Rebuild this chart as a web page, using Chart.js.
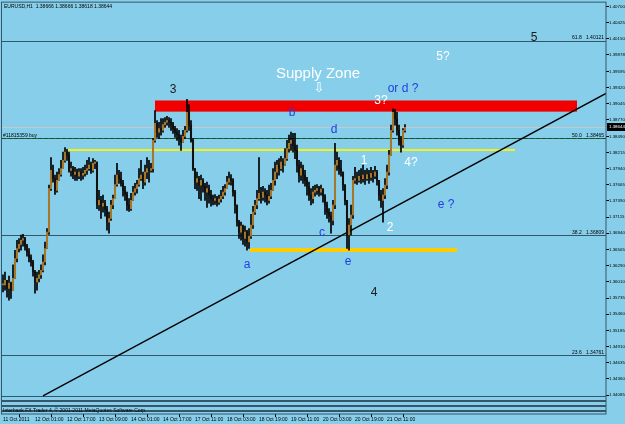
<!DOCTYPE html>
<html>
<head>
<meta charset="utf-8">
<title>EURUSD,H1</title>
<script src="https://cdn.jsdelivr.net/npm/chart.js@4.4.0/dist/chart.umd.min.js"></script>
<style>
	html, body { margin: 0; padding: 0; background: #87ceeb; }
	canvas { display: block; }
</style>
</head>
<body>
<canvas id="chart" width="625" height="424"></canvas>
<script>

// time axis labels, one every 16 bars
var tickLabels		=	["11 Oct 2011", "12 Oct 01:00", "12 Oct 17:00", "13 Oct 09:00", "14 Oct 01:00", "14 Oct 17:00", "17 Oct 11:00", "18 Oct 03:00", "18 Oct 19:00", "19 Oct 11:00", "20 Oct 03:00", "20 Oct 19:00", "21 Oct 11:00"];

// price axis labels
var priceTicks		=	[1.40700, 1.40425, 1.40150, 1.39878, 1.39595, 1.39320, 1.39045, 1.38770, 1.38490, 1.38215, 1.37940, 1.37665, 1.37390, 1.37115, 1.36840, 1.36565, 1.36290, 1.36010, 1.35735, 1.35460, 1.35185, 1.34910, 1.34635, 1.34360, 1.34085];

// H1 candles (open = previous close)
var closes			=	[
	1.3596,1.3604,1.3590,1.3599,1.3587,1.3607,1.3641,1.3658,1.3665,1.3672,
	1.3675,1.3662,1.3652,1.3643,1.3635,1.3618,1.3601,1.3607,1.3613,1.3621,
	1.3635,1.3658,1.3686,1.3760,1.3791,1.3777,1.3757,1.3774,1.3784,1.3794,
	1.3808,1.3822,1.3817,1.3791,1.3794,1.3784,1.3788,1.3781,1.3788,1.3783,
	1.3786,1.3791,1.3794,1.3800,1.3791,1.3803,1.3805,1.3732,1.3740,1.3730,
	1.3735,1.3725,1.3703,1.3709,1.3732,1.3743,1.3767,1.3783,1.3777,1.3769,
	1.3757,1.3750,1.3732,1.3726,1.3740,1.3754,1.3760,1.3767,1.3777,1.3783,
	1.3771,1.3788,1.3794,1.3791,1.3794,1.3842,1.3871,1.3856,1.3862,1.3859,
	1.3869,1.3873,1.3876,1.3873,1.3869,1.3862,1.3856,1.3852,1.3845,1.3839,
	1.3849,1.3859,1.3890,1.3868,1.3842,1.3794,1.3771,1.3777,1.3766,1.3774,
	1.3764,1.3754,1.3760,1.3749,1.3743,1.3740,1.3743,1.3737,1.3742,1.3747,
	1.3754,1.3760,1.3771,1.3777,1.3774,1.3754,1.3732,1.3703,1.3686,1.3696,
	1.3675,1.3686,1.3669,1.3679,1.3698,1.3720,1.3732,1.3743,1.3752,1.3745,
	1.3754,1.3749,1.3740,1.3747,1.3757,1.3774,1.3788,1.3800,1.3794,1.3805,
	1.3801,1.3811,1.3828,1.3837,1.3842,1.3834,1.3825,1.3800,1.3783,1.3794,
	1.3783,1.3774,1.3764,1.3749,1.3743,1.3754,1.3757,1.3760,1.3754,1.3759,
	1.3747,1.3732,1.3720,1.3713,1.3706,1.3732,1.3800,1.3808,1.3794,1.3788,
	1.3766,1.3740,1.3681,1.3698,1.3715,1.3774,1.3777,1.3774,1.3781,1.3777,
	1.3783,1.3777,1.3784,1.3779,1.3786,1.3781,1.3788,1.3774,1.3749,1.3740,
	1.3749,1.3766,1.3788,1.3817,1.3859,1.3890,1.3879,1.3859,1.3842,1.3834,
	1.3859,1.38644
];
var highs			=	[
	1.3613,1.3618,1.3604,1.3611,1.3601,1.3630,1.3655,1.3672,1.3675,1.3681,
	1.3682,1.3677,1.3665,1.3658,1.3647,1.3638,1.3621,1.3618,1.3621,1.3630,
	1.3647,1.3669,1.3692,1.3766,1.3813,1.3800,1.3783,1.3788,1.3794,1.3808,
	1.3822,1.3830,1.3827,1.3822,1.3805,1.3798,1.3796,1.3793,1.3794,1.3794,
	1.3796,1.3800,1.3808,1.3813,1.3805,1.3811,1.3808,1.3805,1.3757,1.3747,
	1.3749,1.3740,1.3730,1.3720,1.3740,1.3749,1.3783,1.3803,1.3791,1.3788,
	1.3774,1.3764,1.3754,1.3743,1.3752,1.3764,1.3769,1.3774,1.3794,1.3808,
	1.3788,1.3800,1.3813,1.3808,1.3803,1.3845,1.3893,1.3876,1.3873,1.3879,
	1.3879,1.3881,1.3883,1.3881,1.3879,1.3873,1.3866,1.3862,1.3859,1.3851,
	1.3859,1.3866,1.3912,1.3903,1.3876,1.3845,1.3791,1.3788,1.3781,1.3783,
	1.3777,1.3769,1.3771,1.3766,1.3757,1.3749,1.3750,1.3747,1.3749,1.3757,
	1.3764,1.3767,1.3781,1.3788,1.3784,1.3777,1.3757,1.3732,1.3706,1.3703,
	1.3698,1.3696,1.3689,1.3692,1.3716,1.3730,1.3740,1.3757,1.3813,1.3762,
	1.3764,1.3760,1.3757,1.3766,1.3769,1.3794,1.3805,1.3808,1.3811,1.3815,
	1.3811,1.3828,1.3842,1.3851,1.3856,1.3854,1.3854,1.3834,1.3808,1.3805,
	1.3800,1.3791,1.3779,1.3771,1.3760,1.3764,1.3766,1.3767,1.3764,1.3766,
	1.3760,1.3750,1.3737,1.3726,1.3720,1.3740,1.3837,1.3822,1.3813,1.3808,
	1.3788,1.3767,1.3740,1.3709,1.3732,1.3781,1.3796,1.3788,1.3791,1.3794,
	1.3800,1.3791,1.3794,1.3791,1.3796,1.3791,1.3798,1.3791,1.3774,1.3757,
	1.3760,1.3777,1.3800,1.3825,1.3868,1.3896,1.3895,1.3890,1.3868,1.3849,
	1.3862,1.3869
];
var lows			=	[
	1.3584,1.3587,1.3575,1.3570,1.3573,1.3587,1.3628,1.3635,1.3652,1.3655,
	1.3662,1.3655,1.3645,1.3635,1.3628,1.3611,1.3582,1.3587,1.3601,1.3607,
	1.3618,1.3630,1.3658,1.3682,1.3757,1.3771,1.3750,1.3754,1.3774,1.3781,
	1.3798,1.3805,1.3808,1.3788,1.3781,1.3777,1.3774,1.3774,1.3777,1.3774,
	1.3776,1.3781,1.3784,1.3791,1.3786,1.3788,1.3794,1.3726,1.3723,1.3709,
	1.3720,1.3713,1.3689,1.3684,1.3706,1.3726,1.3743,1.3764,1.3769,1.3764,
	1.3747,1.3740,1.3723,1.3721,1.3723,1.3743,1.3749,1.3752,1.3764,1.3774,
	1.3760,1.3766,1.3777,1.3771,1.3788,1.3788,1.3839,1.3847,1.3845,1.3851,
	1.3856,1.3864,1.3868,1.3864,1.3859,1.3854,1.3847,1.3842,1.3834,1.3825,
	1.3839,1.3845,1.3856,1.3859,1.3839,1.3791,1.3760,1.3757,1.3743,1.3740,
	1.3754,1.3740,1.3728,1.3735,1.3730,1.3732,1.3733,1.3730,1.3733,1.3737,
	1.3743,1.3749,1.3760,1.3767,1.3766,1.3747,1.3718,1.3696,1.3675,1.3672,
	1.3665,1.3662,1.3655,1.3658,1.3675,1.3692,1.3716,1.3726,1.3740,1.3735,
	1.3740,1.3737,1.3732,1.3735,1.3743,1.3757,1.3766,1.3777,1.3783,1.3791,
	1.3788,1.3800,1.3808,1.3822,1.3825,1.3822,1.3811,1.3788,1.3771,1.3774,
	1.3769,1.3764,1.3749,1.3740,1.3732,1.3735,1.3747,1.3750,1.3747,1.3749,
	1.3737,1.3716,1.3709,1.3703,1.3684,1.3698,1.3726,1.3791,1.3784,1.3781,
	1.3757,1.3732,1.3658,1.3655,1.3681,1.3709,1.3769,1.3767,1.3771,1.3769,
	1.3771,1.3767,1.3774,1.3769,1.3774,1.3771,1.3777,1.3766,1.3740,1.3728,
	1.3703,1.3743,1.3760,1.3783,1.3817,1.3856,1.3868,1.3851,1.3834,1.3822,
	1.3830,1.3856
];

// chart objects (bar index / price)
var fibLevels		=	["61.8", "50.0", "38.2", "23.6"];
var fibPrices		=	[1.40121, 1.38465, 1.36809, 1.34761];
var bottomPrices	=	[1.3407, 1.33975, 1.33895, 1.33815];
var trendBars		=	[20, 301.5];
var trendPrices		=	[1.3407, 1.3922];
var zoneBars		=	[76, 287];
var zonePrices		=	[1.3910, 1.3891];
var yellowBars		=	[31, 256];
var yellowPrice		=	1.3825;
var goldBars		=	[123.5, 227];
var goldPrice		=	1.3656;
var bidPrice		=	1.38644;
var orderPrice		=	1.38465;

var notes			=	[
	{ text: "3",			bar: 85,	price: 1.39287,	color: "#1a1a1a",	size: 12 },
	{ text: "Supply Zone",	bar: 157.5,	price: 1.39559,	color: "#ffffff",	size: 15 },
	{ text: "\u21e9",		bar: 158,	price: 1.39304,	color: "#ffffff",	size: 13 },
	{ text: "3?",			bar: 189,	price: 1.39100,	color: "#ffffff",	size: 12 },
	{ text: "or d ?",		bar: 200,	price: 1.39304,	color: "#2140e0",	size: 12 },
	{ text: "5?",			bar: 220,	price: 1.39848,	color: "#ffffff",	size: 12 },
	{ text: "5",			bar: 265.5,	price: 1.40171,	color: "#1a1a1a",	size: 12 },
	{ text: "b",			bar: 144.5,	price: 1.38896,	color: "#2140e0",	size: 12 },
	{ text: "d",			bar: 165.5,	price: 1.38607,	color: "#2140e0",	size: 12 },
	{ text: "1",			bar: 180.5,	price: 1.38080,	color: "#ffffff",	size: 12 },
	{ text: "4?",			bar: 204,	price: 1.38046,	color: "#ffffff",	size: 12 },
	{ text: "e ?",			bar: 221.5,	price: 1.37332,	color: "#2140e0",	size: 12 },
	{ text: "2",			bar: 193.5,	price: 1.36941,	color: "#ffffff",	size: 12 },
	{ text: "c",			bar: 159.5,	price: 1.36856,	color: "#2140e0",	size: 12 },
	{ text: "a",			bar: 122,	price: 1.36312,	color: "#2140e0",	size: 12 },
	{ text: "e",			bar: 172.5,	price: 1.36363,	color: "#2140e0",	size: 12 },
	{ text: "4",			bar: 185.5,	price: 1.35836,	color: "#1a1a1a",	size: 12 }
];

var LEVEL_COLOUR	=	"#35566a";
var SMALL_FONT		=	"Liberation Sans";

/**
 * Draws a horizontal segment between two bars at a price
 */
function hLine(ctx, xs, ys, bar0, bar1, price, width, colour, dash) {

	var y							=	Math.round(ys.getPixelForValue(price)) + (width % 2 ? 0.5 : 0);

	ctx.save();
	ctx.strokeStyle					=	colour;
	ctx.lineWidth					=	width;
	ctx.setLineDash(dash || []);
	ctx.beginPath();
	ctx.moveTo(xs.getPixelForValue(bar0), y);
	ctx.lineTo(xs.getPixelForValue(bar1), y);
	ctx.stroke();
	ctx.restore();

}

/**
 * MT4 style objects drawn around the candles
 */
var chartObjects		=	{

	id								:	"chartObjects",

	beforeDraw						:	function (chart) {

		var ctx						=	chart.ctx;
		ctx.save();
		ctx.fillStyle				=	"#87ceeb";
		ctx.fillRect(0, 0, chart.width, chart.height);
		ctx.restore();

	},

	beforeDatasetsDraw				:	function (chart) {

		var ctx						=	chart.ctx;
		var xs						=	chart.scales.x;
		var ys						=	chart.scales.y;
		var area					=	chart.chartArea;
		var x0						=	xs.min;
		var x1						=	xs.max;

		ctx.save();
		ctx.beginPath();
		ctx.rect(area.left, area.top, area.right - area.left, area.bottom - area.top);
		ctx.clip();

		// fibo levels and bottom stripes
		fibPrices.forEach(function (p) { hLine(ctx, xs, ys, x0, x1, p, 1, LEVEL_COLOUR); });
		bottomPrices.forEach(function (p, i) { hLine(ctx, xs, ys, x0, x1, p, i ? 2 : 1, LEVEL_COLOUR); });

		// bid line and order line
		hLine(ctx, xs, ys, x0, x1, bidPrice, 1, "#c8c8c8");
		hLine(ctx, xs, ys, x0, x1, orderPrice, 1, "#0a5a1a", [4, 2]);

		// supply zone
		var zx						=	xs.getPixelForValue(zoneBars[0]);
		var zy						=	ys.getPixelForValue(zonePrices[0]);
		ctx.fillStyle				=	"#f20000";
		ctx.fillRect(zx, zy, xs.getPixelForValue(zoneBars[1]) - zx, ys.getPixelForValue(zonePrices[1]) - zy);

		hLine(ctx, xs, ys, yellowBars[0], yellowBars[1], yellowPrice, 2, "#f4f020");
		hLine(ctx, xs, ys, goldBars[0], goldBars[1], goldPrice, 4, "#ffcc00");

		ctx.restore();

	},

	afterDatasetsDraw				:	function (chart) {

		var ctx						=	chart.ctx;
		var xs						=	chart.scales.x;
		var ys						=	chart.scales.y;

		ctx.save();
		ctx.textAlign				=	"center";
		ctx.textBaseline			=	"middle";

		notes.forEach(function (n) {

			ctx.font				=	n.size + "px 'Liberation Sans', Arial, 'DejaVu Sans'";
			if (n.text === "\u21e9") ctx.font = n.size + "px 'DejaVu Sans'";
			ctx.fillStyle			=	n.color;
			ctx.fillText(n.text, xs.getPixelForValue(n.bar), ys.getPixelForValue(n.price));

		});

		ctx.restore();

	},

	afterDraw						:	function (chart) {

		var ctx						=	chart.ctx;
		var ys						=	chart.scales.y;
		var area					=	chart.chartArea;

		ctx.save();

		// frame
		ctx.strokeStyle				=	LEVEL_COLOUR;
		ctx.lineWidth				=	1;
		ctx.strokeRect(area.left - 0.5, area.top - 0.5, area.right - area.left + 0.5, area.bottom - area.top + 0.5);

		ctx.font					=	"5px " + SMALL_FONT;
		ctx.fillStyle				=	"#000";
		ctx.textBaseline			=	"middle";
		ctx.textAlign				=	"left";

		ctx.fillText("EURUSD,H1  1.38666 1.38666 1.38618 1.38644", area.left + 2, area.top + 4);
		ctx.fillText("#11815359 buy", area.left + 1, ys.getPixelForValue(orderPrice) - 2.5);
		ctx.fillText("Interbank FX Trader 4, \u00a9 2001-2011 MetaQuotes Software Corp.", area.left + 1, area.bottom - 3);

		// fibo captions
		ctx.textAlign				=	"right";
		fibPrices.forEach(function (p, i) {

			ctx.fillText(fibLevels[i] + "   " + p.toFixed(5), area.right - 2, ys.getPixelForValue(p) - 2.5);

		});

		// current price box
		var by						=	Math.round(ys.getPixelForValue(bidPrice));
		ctx.fillStyle				=	"#000";
		ctx.fillRect(area.right + 1, by - 4, chart.width - area.right - 1, 8);
		ctx.fillStyle				=	"#fff";
		ctx.textAlign				=	"left";
		ctx.font					=	"4.4px " + SMALL_FONT;
		ctx.fillText(bidPrice.toFixed(5), area.right + 3, by);

		ctx.restore();

	}

};

/**
 * Builds candle datasets from the price arrays
 */
function buildCandles() {

	var wicks						=	[];
	var bodies						=	[];
	var colours						=	[];

	for (var i = 0; i < closes.length; i++) {

		var open					=	i ? closes[i - 1] : closes[i];
		var close					=	closes[i];

		wicks.push({ x: i, y: [Math.min(lows[i], open, close), Math.max(highs[i], open, close)] });
		bodies.push({ x: i, y: [open, close] });
		colours.push(close >= open ? "#a6762a" : "#111111");

	}

	return [
		{
			type					:	"line",
			data					:	trendBars.map(function (b, i) { return { x: b, y: trendPrices[i] }; }),
			borderColor				:	"#000",
			borderWidth				:	1.3,
			pointRadius				:	0,
			order					:	3
		},
		{
			type					:	"bar",
			data					:	wicks,
			backgroundColor			:	"#000",
			barThickness			:	1,
			grouped					:	false,
			order					:	2
		},
		{
			type					:	"bar",
			data					:	bodies,
			backgroundColor			:	colours,
			barThickness			:	1.4,
			minBarLength			:	1,
			grouped					:	false,
			order					:	1
		}
	];

}

/**
 * Renders the chart
 */
function renderChart() {

	var config						=	{
		type						:	"bar",
		data						:	{ datasets: buildCandles() },
		options						:	{
			responsive				:	false,
			animation				:	false,
			events					:	[],
			layout					:	{ padding: { left: 2, top: 2, right: 0, bottom: 0 } },
			plugins					:	{ legend: { display: false }, tooltip: { enabled: false } },
			scales					:	{
				x					:	{
					type			:	"linear",
					min				:	-0.5,
					max				:	301.5,
					offset			:	false,
					border			:	{ display: false },
					grid			:	{ drawOnChartArea: false, tickLength: 3, color: "#000" },
					ticks			:	{
						font		:	{ size: 5, family: SMALL_FONT },
						color		:	"#000",
						padding		:	0,
						autoSkip	:	false,
						maxRotation	:	0,
						align		:	"start",
						callback	:	function (v, i) { return tickLabels[i]; }
					},
					afterBuildTicks	:	function (s) { s.ticks = tickLabels.map(function (l, i) { return { value: i * 16 }; }); },
					afterFit		:	function (s) { s.height = 10; }
				},
				y					:	{
					position		:	"right",
					min				:	1.33762,
					max				:	1.40766,
					border			:	{ display: false },
					grid			:	{ drawOnChartArea: false, tickLength: 3, color: "#000" },
					ticks			:	{
						font		:	{ size: 4.4, family: SMALL_FONT },
						color		:	"#000",
						padding		:	0,
						autoSkip	:	false,
						callback	:	function (v) { return v.toFixed(5); }
					},
					afterBuildTicks	:	function (s) { s.ticks = priceTicks.map(function (v) { return { value: v }; }); },
					afterFit		:	function (s) { s.width = 19; }
				}
			}
		},
		plugins						:	[chartObjects]
	};

	new Chart(document.getElementById("chart"), config);

}

renderChart();

</script>
</body>
</html>
